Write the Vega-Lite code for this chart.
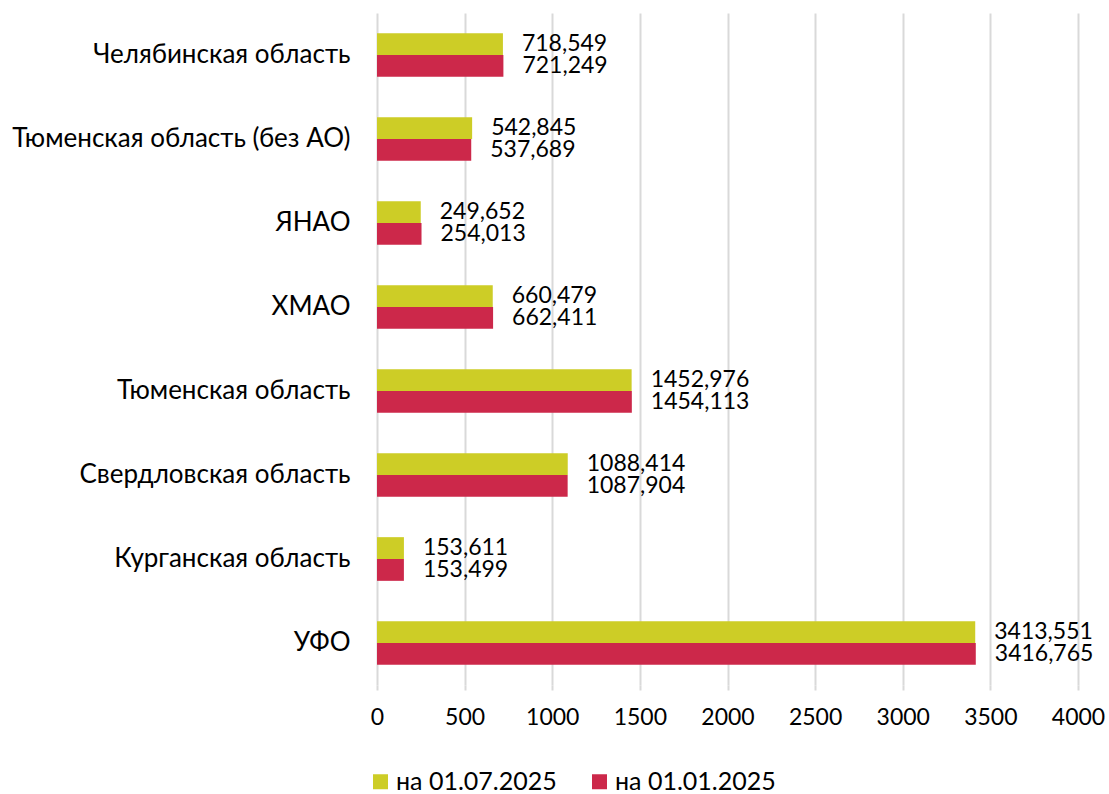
{
  "$schema": "https://vega.github.io/schema/vega-lite/v6.json",
  "autosize": "none",
  "width": 701,
  "height": 672,
  "padding": {"left": 377, "top": 13, "right": 31, "bottom": 109},
  "background": "white",
  "config": {
    "font": "Lato",
    "view": {"stroke": null},
    "locale": {"number": {"decimal": ",", "thousands": "", "grouping": [3], "currency": ["", ""]}}
  },
  "data": {
    "values": [
      {"region": "Челябинская область", "series": "на 01.07.2025", "value": 718.549},
      {"region": "Челябинская область", "series": "на 01.01.2025", "value": 721.249},
      {"region": "Тюменская область (без АО)", "series": "на 01.07.2025", "value": 542.845},
      {"region": "Тюменская область (без АО)", "series": "на 01.01.2025", "value": 537.689},
      {"region": "ЯНАО", "series": "на 01.07.2025", "value": 249.652},
      {"region": "ЯНАО", "series": "на 01.01.2025", "value": 254.013},
      {"region": "ХМАО", "series": "на 01.07.2025", "value": 660.479},
      {"region": "ХМАО", "series": "на 01.01.2025", "value": 662.411},
      {"region": "Тюменская область", "series": "на 01.07.2025", "value": 1452.976},
      {"region": "Тюменская область", "series": "на 01.01.2025", "value": 1454.113},
      {"region": "Свердловская область", "series": "на 01.07.2025", "value": 1088.414},
      {"region": "Свердловская область", "series": "на 01.01.2025", "value": 1087.904},
      {"region": "Курганская область", "series": "на 01.07.2025", "value": 153.611},
      {"region": "Курганская область", "series": "на 01.01.2025", "value": 153.499},
      {"region": "УФО", "series": "на 01.07.2025", "value": 3413.551},
      {"region": "УФО", "series": "на 01.01.2025", "value": 3416.765}
    ]
  },
  "encoding": {
    "y": {
      "field": "region", "type": "nominal", "sort": null,
      "scale": {"paddingInner": 0.48, "paddingOuter": 0.24},
      "axis": {"title": null, "domain": false, "ticks": false, "labelFontSize": 26, "labelColor": "#000000", "labelPadding": 27, "labelLimit": 400}
    },
    "yOffset": {"field": "series", "type": "nominal", "sort": ["на 01.07.2025", "на 01.01.2025"]},
    "x": {
      "field": "value", "type": "quantitative",
      "scale": {"domain": [0, 4000], "nice": false},
      "axis": {"title": null, "values": [0, 500, 1000, 1500, 2000, 2500, 3000, 3500, 4000], "domain": false, "grid": true, "gridColor": "#d9d9d9", "gridWidth": 2, "tickColor": "#d9d9d9", "tickWidth": 2, "tickSize": 5, "labelFontSize": 23, "labelColor": "#000000", "labelPadding": 16, "labelFlush": false, "labelOverlap": false, "labelBound": false, "format": "d"}
    }
  },
  "layer": [
    {
      "mark": {"type": "bar"},
      "encoding": {
        "color": {
          "field": "series", "type": "nominal",
          "scale": {"domain": ["на 01.07.2025", "на 01.01.2025"], "range": ["#cdcd26", "#cc284a"]},
          "legend": {"title": null, "orient": "none", "legendX": -9, "legendY": 756, "direction": "horizontal", "symbolType": "square", "symbolSize": 225, "symbolStrokeWidth": 0, "labelFontSize": 25, "labelLimit": 300, "labelColor": "#000000", "columnPadding": 30, "labelOffset": 3}
        }
      }
    },
    {
      "mark": {"type": "text", "align": "left", "baseline": "middle", "dx": 19, "fontSize": 23, "color": "#000000"},
      "encoding": {
        "text": {"field": "value", "type": "quantitative", "format": ".3f"}
      }
    }
  ]
}
